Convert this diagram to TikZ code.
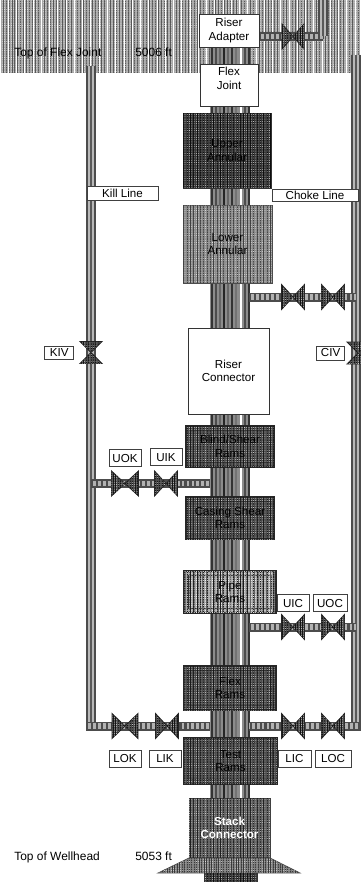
\documentclass[tikz,border=0pt]{standalone}
\usepackage{fontspec}
\setmainfont{Liberation Sans}
\usetikzlibrary{positioning,patterns.meta}
\tikzset{
  texture/.style n args={3}{fill=black!#1,
    postaction={pattern={Lines[angle=90,distance=#2pt,line width=.5pt]},pattern color=black!#3},
    postaction={pattern={Dots[distance=1.3pt,radius=.22pt]},pattern color=white}},
  block/.style={rectangle,inner sep=0pt,align=center,font=\fontsize{6.6}{7.6}\selectfont},
  whitebox/.style={block,draw=black!80,fill=white},
  dark/.style={block,draw=black!80,texture={78}{1.9}{95}},
  medium/.style={block,draw=black!70,texture={45}{1.9}{75}},
  ram/.style={block,draw=black!85,texture={70}{1.9}{90},line width=.8pt,path picture={
    \draw[black!80,line width=.5pt] ([shift={(2.5pt,-2.5pt)}]path picture bounding box.north west)
      rectangle ([shift={(-2.5pt,2.5pt)}]path picture bounding box.south east);}},
  lightram/.style={ram,texture={34}{2.3}{62}},
  tag/.style={block,draw=black!75,fill=white,minimum height=.34cm,minimum width=.64cm},
  caption/.style={inner sep=0pt,anchor=base west,font=\fontsize{6.8}{8}\selectfont},
  vpipe/.style={line width=.2cm,draw=black!70,postaction={draw=black!28,line width=.12cm},
    postaction={draw=black!65,line width=.04cm}},
  hpipe/.style={line width=.18cm,draw=black!70,postaction={draw=black!30,line width=.11cm},
    postaction={draw=black!70,line width=.11cm,dash pattern=on 1.2pt off 1.6pt}},
  valve/.style={draw=black!85,line width=.5pt,texture={70}{1.4}{92}},
  flare/.style={draw=black!70,texture={50}{1.4}{78}}
}

\begin{document}
\begin{tikzpicture}[x=0.02cm,y=-0.02cm]
  \useasboundingbox (0,0) rectangle (360,882);
  % water band
  \node[block,texture={34}{1.7}{66},minimum width=7.2cm,minimum height=1.46cm,
    postaction={pattern={Lines[angle=90,distance=4.7pt,line width=.4pt]},pattern color=white}] (band) at (180,36.5) {};
  % junctions
  \coordinate (risertop) at (229.5,47);
  \coordinate (riserbot) at (229.5,873);
  \coordinate (riserl) at (210,47);
  \coordinate (riserr) at (249,47);
  \coordinate (killtop) at (91,66);
  \coordinate (killbot) at (91,731);
  \coordinate (killelbow) at (86,726);
  \coordinate (choketop) at (355.5,55);
  \coordinate (chokebot) at (355.5,731);
  \coordinate (chokeelbow) at (360,726);
  \coordinate (elbow) at (323,36.5);
  \coordinate (uptop) at (323,0);
  \coordinate (vtop) at (293,36.5);
  \coordinate (vkiv) at (91,352.5);
  \coordinate (vciv) at (358,353);
  \coordinate (vann) at (293,297);
  \coordinate (vann2) at (333,297);
  \coordinate (vuok) at (125,483.5);
  \coordinate (vuik) at (166,483.5);
  \coordinate (vuic) at (293,627);
  \coordinate (vuoc) at (333,627);
  \coordinate (vlok) at (125,726);
  \coordinate (vlik) at (167,726);
  \coordinate (vlic) at (293,726);
  \coordinate (vloc) at (333,726);
  % riser
  \draw[line width=.78cm,draw=black!45] (risertop) -- (riserbot);
  \foreach \x/\g in {-18/80,-14/70,-10/60,-6/85,-2/60,2/80,6/55,11/0,15/70,19/80}
    \draw[line width=.04cm,draw=black!\g] ([xshift=\x*0.02cm]risertop) -- ([xshift=\x*0.02cm]riserbot);
  % side lines
  \draw[vpipe] (killtop) -- (killbot);
  \draw[vpipe] (choketop) -- (chokebot);
  \draw[hpipe] (killelbow) -- (killelbow -| riserl);
  \draw[hpipe] (chokeelbow) -- (chokeelbow -| riserr);
  \draw[hpipe] (vuok -| killbot) -- (vuok -| riserl);
  \draw[hpipe] (vann -| riserr) -- (vann -| choketop);
  \draw[hpipe] (vuic -| riserr) -- (vuic -| choketop);
  \draw[hpipe] (vtop -| riserr) -- (elbow);
  \draw[vpipe] (elbow) -- (uptop);
  % valves
  \foreach \v/\w in {vtop/11,vann/11.5,vann2/11.5,vuok/13.5,vuik/11.5,vuic/11.5,vuoc/11.5,vlok/13,vlik/11.5,vlic/11.5,vloc/11.5}
    \path[valve,shift={(\v)}] (-\w,-12.5) -- (-\w,12.5) -- (\w,-12.5) -- (\w,12.5) -- cycle;
  \foreach \v in {vkiv,vciv}
    \path[valve,shift={(\v)}] (-11,-11) -- (11,-11) -- (-11,11) -- (11,11) -- cycle;
  % stack
  \node[whitebox,minimum width=1.2cm,minimum height=.66cm] (adapter) at (229,30.5) {Riser\\Adapter};
  \node[whitebox,minimum width=1.16cm,minimum height=.84cm] (flex) at (229,85) {Flex\\Joint\\\mbox{}};
  \node[dark,minimum width=1.76cm,minimum height=1.5cm] (upper) at (227,150.5) {Upper\\Annular};
  \node[medium,minimum width=1.78cm,minimum height=1.56cm] (lower) at (227.5,244) {Lower\\Annular};
  \node[whitebox,minimum width=1.62cm,minimum height=1.72cm] (connector) at (228.5,371) {Riser\\Connector};
  \node[ram,minimum width=1.76cm,minimum height=.82cm] (blind) at (230,446.5) {Blind/Shear\\Rams};
  \node[ram,minimum width=1.76cm,minimum height=.84cm] (casing) at (230,518) {Casing Shear\\Rams};
  \node[lightram,minimum width=1.84cm,minimum height=.84cm] (piperams) at (230,592) {Pipe\\Rams};
  \node[ram,minimum width=1.84cm,minimum height=.88cm] (flexrams) at (230,688) {Flex\\Rams};
  \node[ram,minimum width=1.86cm,minimum height=.92cm] (test) at (230.5,761) {Test\\Rams};
  % wellhead
  \coordinate (flarel) at (189,858);
  \coordinate (flarer) at (270,858);
  \coordinate (tipl) at (158,873);
  \coordinate (tipr) at (300,873);
  \path[flare] (flarel) -- (tipl) -- (tipr) -- (flarer) -- cycle;
  \node[dark,minimum width=1.06cm,minimum height=.2cm] (base) at (230.5,878) {};
  \node[block,draw=black!75,text=white,texture={62}{1.9}{88},minimum width=1.62cm,minimum height=1.18cm] (stack) at (229.5,828) {\bfseries Stack\\\bfseries Connector};
  % labels
  \node[tag,minimum width=1.42cm,minimum height=.28cm] (kill) at (122.5,193) {Kill Line};
  \node[tag,minimum width=1.72cm,minimum height=.24cm] (choke) at (315,195) {Choke Line};
  \node[tag,minimum width=.58cm,minimum height=.26cm,left=.34cm of vkiv] (kiv) {KIV};
  \node[tag,minimum width=.56cm,minimum height=.28cm,left=.26cm of vciv] (civ) {CIV};
  \node[tag,above=.33cm of vuok] (uok) {UOK};
  \node[tag,above=.35cm of vuik] (uik) {UIK};
  \node[tag,above=.3cm of vuic] (uic) {UIC};
  \node[tag,minimum width=.68cm,above=.3cm of vuoc,xshift=-.06cm] (uoc) {UOC};
  \node[tag,below=.48cm of vlok] (lok) {LOK};
  \node[tag,below=.48cm of vlik,xshift=-.04cm] (lik) {LIK};
  \node[tag,minimum width=.66cm,below=.48cm of vlic,xshift=.03cm] (lic) {LIC};
  \node[tag,minimum width=.72cm,below=.48cm of vloc] (loc) {LOC};
  \node[caption] (flextop) at (14,57) {Top of Flex Joint};
  \node[caption] (flexft) at (135,57) {5006 ft};
  \node[caption] (welltop) at (14,860) {Top of Wellhead};
  \node[caption] (wellft) at (135,860) {5053 ft};
\end{tikzpicture}
\end{document}
